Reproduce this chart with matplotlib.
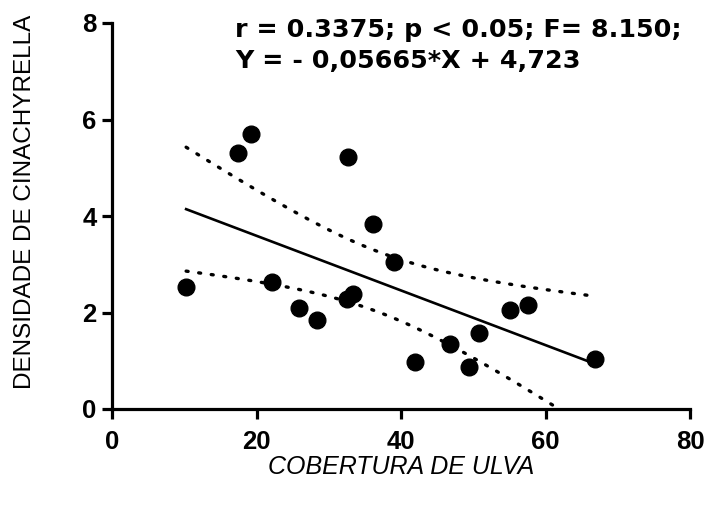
import numpy as np
import matplotlib.pyplot as plt

# cobertura de Ulva (%) x densidade de Cinachyrella
cobertura = [10.26, 17.47, 19.27, 22.18, 25.93, 28.42, 32.72, 32.58, 33.41,
             36.19, 39.10, 41.87, 46.72, 49.36, 50.75, 55.04, 57.54, 66.83]
densidade = [2.52, 5.30, 5.70, 2.64, 2.10, 1.85, 5.22, 2.27, 2.39,
             3.83, 3.04, 0.98, 1.35, 0.87, 1.58, 2.06, 2.16, 1.04]

slope, intercept = -0.05665, 4.723
x_ticks = [0, 20, 40, 60, 80]
y_ticks = [0, 2, 4, 6, 8]

x = np.array(cobertura)
y = np.array(densidade)
n = len(x)

# banda de confiança 95% da reta
resid = y - (intercept + slope * x)
s = np.sqrt(np.sum(resid**2) / (n - 2))
sxx = np.sum((x - x.mean())**2)
t_crit = 2.12  # t(0.975, 16)
xs = np.linspace(x.min(), x.max(), 200)
ys = intercept + slope * xs
hw = t_crit * s * np.sqrt(1 / n + (xs - x.mean())**2 / sxx)

W, H = 708, 507
fig = plt.figure(figsize=(W / 100, H / 100), dpi=100)
ax = fig.add_axes([112 / W, 1 - 409 / H, 578 / W, 386 / H])

ax.plot(x, y, "o", color="black", markersize=12, zorder=4, clip_on=False)
ax.plot(xs, ys, color="black", lw=1.9, zorder=3)
dots = (0, (0.6, 3.2))
ax.plot(xs, ys + hw, color="black", lw=2.4, linestyle=dots,
        dash_capstyle="round", zorder=3)
ax.plot(xs, ys - hw, color="black", lw=2.4, linestyle=dots,
        dash_capstyle="round", zorder=3)

ax.set_xlim(0, 80)
ax.set_ylim(0, 8)
ax.set_xticks(x_ticks)
ax.set_yticks(y_ticks)
for sp in ["top", "right"]:
    ax.spines[sp].set_visible(False)
for sp in ["left", "bottom"]:
    ax.spines[sp].set_linewidth(2.3)
ax.tick_params(width=2.3, length=7.2, direction="out")
ax.tick_params(axis="x", pad=8)
ax.tick_params(axis="y", pad=4)
for lab in ax.get_xticklabels() + ax.get_yticklabels():
    lab.set_fontfamily("Liberation Sans")
    lab.set_fontweight("bold")
    lab.set_fontsize(18.5)

ax.set_xlabel("COBERTURA DE ULVA", fontsize=18, style="italic",
              fontfamily="Liberation Sans")
ax.set_ylabel("DENSIDADE DE CINACHYRELLA", fontsize=17.5,
              fontfamily="Liberation Sans")
ax.xaxis.set_label_coords(0.5, 1 - (467 - 23) / 386, transform=ax.transAxes)
ax.xaxis.label.set_va("center")
ax.yaxis.set_label_coords((25 - 112) / 578, 1 - (202 - 23) / 386)
ax.yaxis.label.set_va("center")

fig.text(235 / W, 1 - 37 / H, "r = 0.3375; p < 0.05; F= 8.150;",
         ha="left", va="baseline", fontsize=18.3, fontweight="bold",
         fontfamily="DejaVu Sans")
fig.text(235 / W, 1 - 68 / H, "Y = - 0,05665*X + 4,723",
         ha="left", va="baseline", fontsize=18.3, fontweight="bold",
         fontfamily="DejaVu Sans")

fig.savefig("out.png", dpi=100, facecolor="white")
